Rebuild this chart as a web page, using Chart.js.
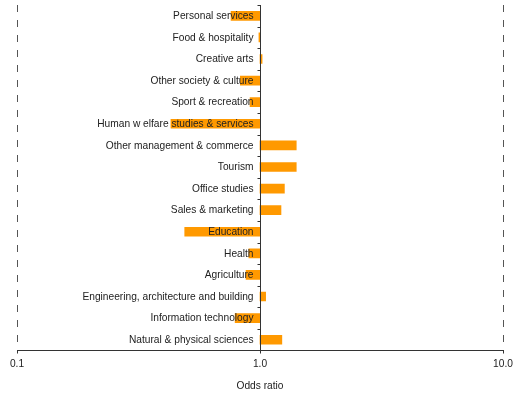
<!DOCTYPE html>
<html>
<head>
<meta charset="utf-8">
<script src="https://cdn.jsdelivr.net/npm/chart.js@4/dist/chart.umd.min.js"></script>
<style>
  html, body { margin: 0; padding: 0; background: #ffffff; }
  #wrap { width: 515px; height: 396px; }
</style>
</head>
<body>
<div id="wrap"><canvas id="chart"></canvas></div>
<script>
// Fields of study, listed top to bottom
const fields = [
  'Personal services',
  'Food & hospitality',
  'Creative arts',
  'Other society & culture',
  'Sport & recreation',
  'Human w elfare studies & services',
  'Other management & commerce',
  'Tourism',
  'Office studies',
  'Sales & marketing',
  'Education',
  'Health',
  'Agriculture',
  'Engineering, architecture and building',
  'Information technology',
  'Natural & physical sciences'
];

// Odds ratio for each field (reference level = 1.0)
const oddsRatios = [0.76, 0.99, 1.02, 0.83, 0.91, 0.43, 1.41, 1.41, 1.26, 1.22, 0.49, 0.90, 0.876, 1.055, 0.79, 1.23];

// Odds-ratio axis ticks
const ratioTicks = [0.1, 1, 10];
const baseline = 1;

const FONT = "'Liberation Sans', Arial, sans-serif";
const FONT_SIZE = 10.2;

// Draws the baseline axis at 1.0, its category ticks and the field labels
const baselineAxis = {
  id: 'baselineAxis',
  afterDatasetsDraw(chart) {
    const { ctx, chartArea, scales } = chart;
    const xs = scales.x, ys = scales.y;
    const x1 = Math.round(xs.getPixelForValue(baseline)) + 0.5;
    ctx.save();
    ctx.strokeStyle = '#333333';
    ctx.lineWidth = 1;
    ctx.beginPath();
    ctx.moveTo(x1, chartArea.top);
    ctx.lineTo(x1, chartArea.bottom);
    const n = fields.length;
    const step = (chartArea.bottom - chartArea.top) / n;
    for (let i = 0; i < n; i++) {
      const y = Math.round(chartArea.top + i * step) + 0.5;
      ctx.moveTo(x1 - 3, y);
      ctx.lineTo(x1, y);
    }
    ctx.stroke();

    ctx.fillStyle = '#222222';
    ctx.font = FONT_SIZE + 'px ' + FONT;
    ctx.textAlign = 'right';
    ctx.textBaseline = 'middle';
    fields.forEach((label, i) => {
      ctx.fillText(label, x1 - 7, ys.getPixelForValue(i) + 0.5);
    });
    ctx.restore();
  }
};

new Chart(document.getElementById('chart'), {
  type: 'bar',
  data: {
    labels: fields,
    datasets: [{
      data: oddsRatios.map(v => [baseline, v]),
      backgroundColor: '#FF9900',
      borderWidth: 0,
      barThickness: 9
    }]
  },
  options: {
    indexAxis: 'y',
    responsive: true,
    maintainAspectRatio: false,
    animation: false,
    layout: { padding: { left: 17, right: 12, top: 5, bottom: 4 } },
    plugins: {
      legend: { display: false },
      tooltip: { enabled: false }
    },
    scales: {
      x: {
        type: 'logarithmic',
        min: 0.1,
        max: 10,
        afterBuildTicks(scale) {
          scale.ticks = ratioTicks.map(v => ({ value: v }));
        },
        // let the layout padding alone set the plot's side margins
        afterFit(scale) {
          scale.paddingLeft = 0;
          scale.paddingRight = 0;
        },
        ticks: {
          color: '#222222',
          font: { family: FONT, size: FONT_SIZE },
          padding: 5,
          autoSkip: false,
          maxRotation: 0,
          callback: v => Number(v).toFixed(1)
        },
        grid: {
          drawTicks: true,
          tickLength: 3,
          tickColor: '#333333',
          tickBorderDash: [],
          lineWidth: 1,
          color: ctx => (ctx.tick && ctx.tick.value === baseline) ? 'rgba(0,0,0,0)' : '#555555'
        },
        border: {
          display: true,
          color: '#333333',
          width: 1,
          dash: ctx => (ctx.tick && ctx.tick.value === baseline) ? [] : [7, 8]
        },
        title: {
          display: true,
          text: 'Odds ratio',
          color: '#222222',
          font: { family: FONT, size: FONT_SIZE },
          padding: { top: 4, bottom: 0 }
        }
      },
      y: {
        display: false,
        offset: true
      }
    }
  },
  plugins: [baselineAxis]
});
</script>
</body>
</html>
